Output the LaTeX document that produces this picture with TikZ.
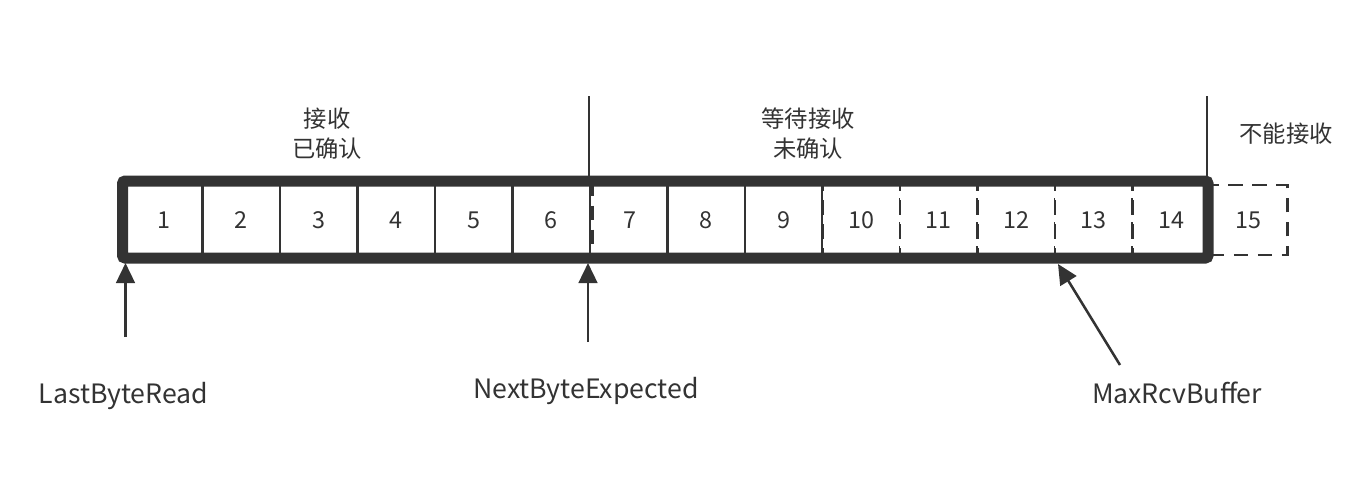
\documentclass[tikz,border=0pt]{standalone}
\usepackage{fontspec}
\setmainfont{Noto Sans CJK SC}
\usetikzlibrary{arrows.meta}
\definecolor{ink}{HTML}{333333}
\tikzset{
  cell/.style={draw=ink, fill=white, line width=2pt, minimum width=58.1pt, minimum height=52.5pt,
    inner sep=0pt, text=ink, font=\fontsize{17.5}{20}\selectfont},
  dcell/.style={cell, dash pattern=on 11pt off 7pt},
  lbl/.style={text=ink, font=\fontsize{17.5}{23}\selectfont, align=center, inner sep=0pt},
  latin/.style={lbl, font=\fontsize{20}{24}\selectfont},
  ptr/.style={draw=ink, line width=1.9pt, -{Triangle[width=14pt,length=15pt]}},
  sepline/.style={draw=ink, line width=1.9pt}
}
\begin{document}
\begin{tikzpicture}[x=0.75pt,y=-0.75pt]
\useasboundingbox (0,0) rectangle (1364,490);
% cells
\node[cell]  (c1)  at (163.75,220) {1};
\node[cell]  (c2)  at (241.25,220) {2};
\node[cell]  (c3)  at (318.75,220) {3};
\node[cell]  (c4)  at (396.25,220) {4};
\node[cell]  (c5)  at (473.75,220) {5};
\node[cell]  (c6)  at (551.25,220) {6};
\node[dcell, minimum width=56pt] (c7)  at (630,220) {7};
\node[cell]  (c8)  at (706.25,220) {8};
\node[cell]  (c9)  at (783.75,220) {9};
\node[dcell] (c10) at (861.25,220) {10};
\node[dcell] (c11) at (938.75,220) {11};
\node[dcell] (c12) at (1016.25,220) {12};
\node[dcell] (c13) at (1093.75,220) {13};
\node[dcell] (c14) at (1171.25,220) {14};
\node[dcell] (c15) at (1248.5,220) {15};
% thick window frame
\draw[draw=ink, line width=8.25pt, rounded corners=2pt] (122.5,181) rectangle (1208,258);
% separators
\coordinate (s1top) at (589,96);
\coordinate (s1bot) at (589,181);
\coordinate (s2top) at (1207,96);
\coordinate (s2bot) at (1207,181);
\draw[sepline] (s1top) -- (s1bot);
\draw[sepline] (s2top) -- (s2bot);
% region labels
\node[lbl] (r1) at (327,133.5) {接收\\已确认};
\node[lbl] (r2) at (808,133.5) {等待接收\\未确认};
\node[lbl] (r3) at (1286,134) {不能接收};
% pointer labels
\node[latin, anchor=base] (lbr) at (123.5,403) {LastByteRead};
\node[latin, anchor=base] (nbe) at (586,398) {NextByteExpected};
\node[latin, anchor=base] (mrb) at (1177,403) {MaxRcvBuffer};
% pointers
\coordinate (p1s) at (125.5,337);
\coordinate (p1e) at (125.5,263);
\coordinate (p2s) at (588,342);
\coordinate (p2e) at (588,263);
\coordinate (p3s) at (1120,365);
\coordinate (p3e) at (1058,264);
\draw[ptr] (p1s) -- (p1e);
\draw[ptr] (p2s) -- (p2e);
\draw[ptr] (p3s) -- (p3e);
\end{tikzpicture}
\end{document}
